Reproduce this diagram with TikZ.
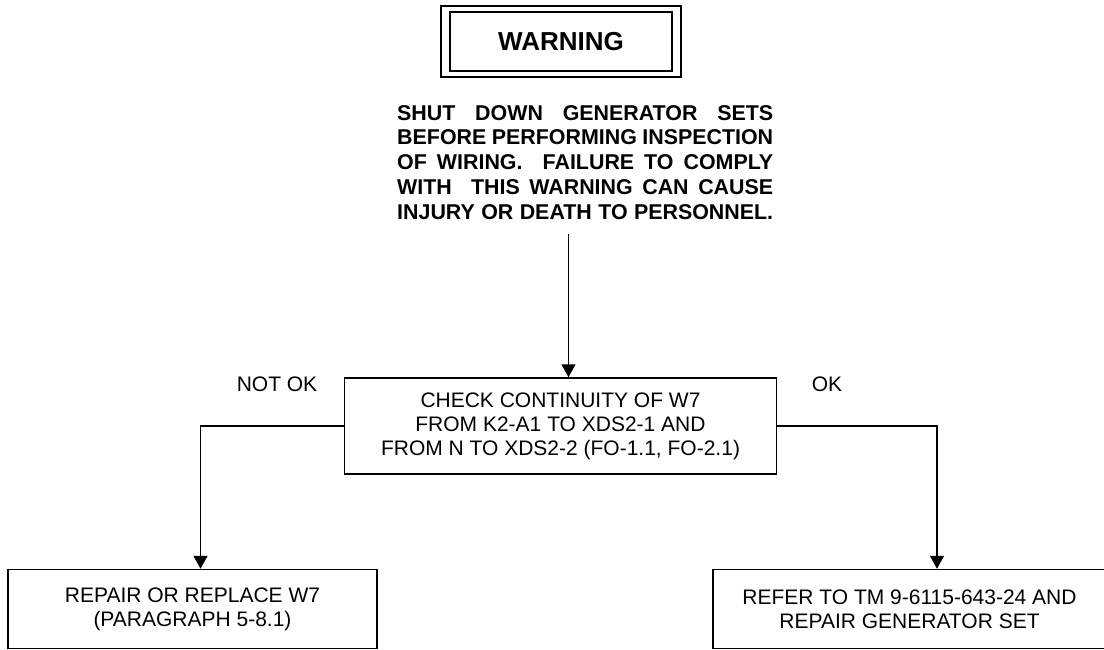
\documentclass[tikz,border=0pt]{standalone}
\usepackage{fontspec}
\setmainfont{Liberation Sans}
\usetikzlibrary{arrows.meta}
\newlength\parw
\setlength\parw{376pt}
\newcommand\jline[1]{\hbox to\parw{#1}}
\begin{document}
\begin{tikzpicture}[x=1pt,y=-1pt,
  box/.style={draw, line width=1.5pt, align=center, font=\fontsize{21}{24}\selectfont, inner sep=0pt},
  frame/.style={draw, line width=1.8pt, inner sep=0pt},
  arr/.style={line width=1.5pt, -{Triangle[length=13pt,width=14pt]}},
  lbl/.style={font=\fontsize{21}{24}\selectfont, inner sep=0pt},
  warnpar/.style={font=\bfseries\fontsize{21.4}{24.8}\selectfont, inner sep=0pt, align=left}]
\useasboundingbox (0,0) rectangle (1104,650);
% warning title
\node[frame, minimum width=240, minimum height=71] (wout) at (561,41.5) {};
\node[frame, line width=1.5pt, minimum width=222, minimum height=59,
      font=\bfseries\fontsize{26}{30}\selectfont] (warn) at (561,41.5) {WARNING};
% warning paragraph
\node[warnpar, anchor=north west] (para) at (397,105) {%
\jline{SHUT\hfill DOWN\hfill GENERATOR\hfill SETS}\\
\jline{BEFORE\hfill PERFORMING\hfill INSPECTION}\\
\jline{OF\hfill WIRING.\hfill\hfill FAILURE\hfill TO\hfill COMPLY}\\
\jline{WITH\hfill\hfill THIS\hfill WARNING\hfill CAN\hfill CAUSE}\\
\jline{INJURY\hfill OR\hfill DEATH\hfill TO\hfill PERSONNEL.}};
\coordinate (astart) at (568.5,234);
% boxes
\node[box, minimum width=432, minimum height=96] (cbox) at (560.5,426)
  {CHECK CONTINUITY OF W7\\FROM K2-A1 TO XDS2-1 AND\\FROM N TO XDS2-2 (FO-1.1, FO-2.1)};
\node[box, minimum width=369, minimum height=79] (lbox) at (192.5,609)
  {REPAIR OR REPLACE W7\\(PARAGRAPH 5-8.1)};
\node[box, minimum width=393, minimum height=79] (rbox) at (909.5,609)
  {REFER TO TM 9-6115-643-24 AND\\REPAIR GENERATOR SET};
% labels
\node[lbl] (nok) at (277,384) {NOT OK};
\node[lbl] (ok) at (827,384) {OK};
% connectors
\draw[arr] (astart) -- (astart |- cbox.north);
\draw[arr] (cbox.west) -| ([xshift=8]lbox.north);
\draw[arr] (cbox.east) -| ([xshift=27.5]rbox.north);
\end{tikzpicture}
\end{document}
